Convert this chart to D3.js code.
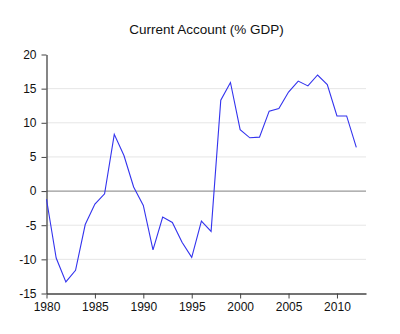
<!DOCTYPE html>
<html><head><meta charset="utf-8">
<script src="https://cdn.jsdelivr.net/npm/d3@7"></script>
<style>body{margin:0;background:#fff}svg{display:block}text{font-family:"Liberation Sans",Arial,sans-serif;fill:#111}</style>
</head><body><svg id="c" width="400" height="334"></svg>
<script>
const years = d3.range(1980, 2013);
const values = [-1.2,-9.8,-13.3,-11.6,-4.9,-1.9,-0.4,8.3,5.2,0.6,-2.1,-8.6,-3.8,-4.6,-7.5,-9.7,-4.4,-5.9,13.3,15.9,9.0,7.8,7.9,11.7,12.1,14.5,16.1,15.4,17.0,15.6,11.0,11.0,6.4];
const yTicks = [-15,-10,-5,0,5,10,15,20];
const xTicks = [1980,1985,1990,1995,2000,2005,2010];
const title = "Current Account (% GDP)";

const svg = d3.select("#c");
const x = d3.scaleLinear().domain([1980, 2013]).range([46.5, 366]);
const y = d3.scaleLinear().domain([-15, 20]).range([293.5, 54.5]);

svg.append("text").attr("x", 206.5).attr("y", 34).attr("text-anchor","middle").attr("font-size",13.5).text(title);

// gridlines
svg.append("g").selectAll("line").data(yTicks.filter(d=>d!==-15 && d!==0 && d!==20)).join("line")
  .attr("x1", x(1980)).attr("x2", x(2013)).attr("y1", d=>y(d)).attr("y2", d=>y(d))
  .attr("stroke","#e6e6e6").attr("stroke-width",1);
svg.append("line").attr("x1", x(1980)).attr("x2", x(2013)).attr("y1", y(0)).attr("y2", y(0))
  .attr("stroke","#999").attr("stroke-width",1.2);

const fmt = d => String(d);
const yAxis = svg.append("g").attr("transform",`translate(${x(1980)},0)`)
  .call(d3.axisLeft(y).tickValues(yTicks).tickSize(5).tickSizeOuter(0).tickPadding(5).tickFormat(fmt));
const xAxis = svg.append("g").attr("transform",`translate(0,${y(-15)})`)
  .call(d3.axisBottom(x).tickValues(xTicks).tickSize(5).tickSizeOuter(0).tickPadding(4).tickFormat(fmt));
[yAxis, xAxis].forEach(g=>{
  g.select(".domain").attr("stroke","#444").attr("stroke-width",1.3);
  g.selectAll(".tick line").attr("stroke","#444");
  g.selectAll("text").attr("font-size",12).attr("fill","#111").style("font-family",'"Liberation Sans",Arial,sans-serif');
});

svg.append("path").datum(years.map((yr,i)=>[yr, values[i]]))
  .attr("fill","none").attr("stroke","#3333ee").attr("stroke-width",1.1)
  .attr("d", d3.line().x(d=>x(d[0])).y(d=>y(d[1])));
</script></body></html>
